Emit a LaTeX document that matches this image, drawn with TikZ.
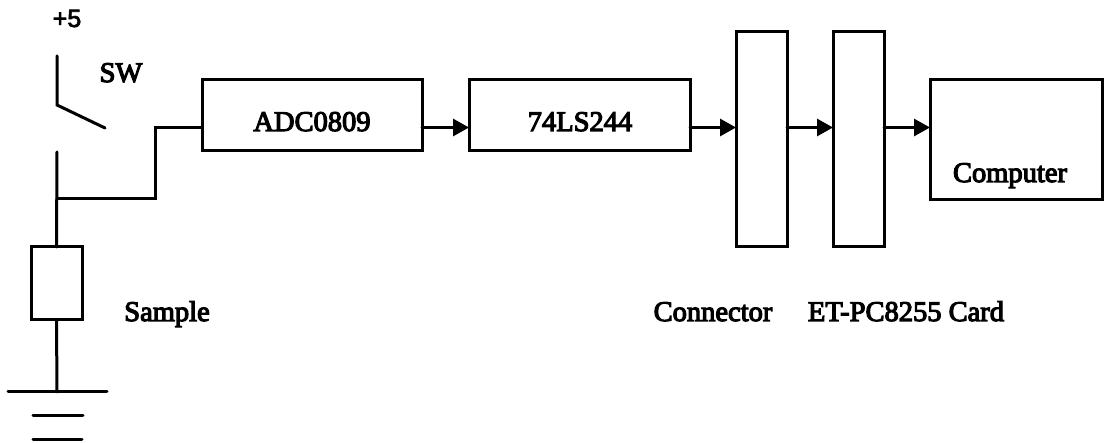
\documentclass[tikz,border=0pt]{standalone}
\usepackage{fontspec}
\setmainfont{Liberation Serif}
\newfontfamily\labfont[FakeBold=4]{Liberation Serif}
\newfontfamily\supfont[FakeBold=3]{Liberation Sans}
\usetikzlibrary{arrows.meta,calc}
\tikzset{
  x=1pt,y=-1pt,
  wire/.style={line width=3pt,black,line cap=round,line join=miter},
  arrowwire/.style={wire,-{Triangle[length=16pt,width=17pt]}},
  blockbox/.style={draw=black,line width=3pt,fill=white,inner sep=0pt,outer sep=0pt},
  lab/.style={inner sep=0pt,outer sep=0pt,black,anchor=base,font=\labfont\fontsize{28.5}{32}\selectfont}
}
\begin{document}
\begin{tikzpicture}
\useasboundingbox (0,0) rectangle (1104,443);
\node[blockbox,minimum width=220pt,minimum height=71pt] (adc) at (312,115.5) {};
\node[blockbox,minimum width=221pt,minimum height=71pt] (ls) at (579.5,115.5) {};
\node[blockbox,minimum width=51pt,minimum height=215pt] (conn) at (761.5,139.5) {};
\node[blockbox,minimum width=51pt,minimum height=215pt] (card) at (858.5,139.5) {};
\node[blockbox,minimum width=172pt,minimum height=120pt] (comp) at (1016,140) {};
\node[blockbox,minimum width=51pt,minimum height=73pt] (samp) at (56.5,283.5) {};
\node[lab] (adctext) at (312,131) {ADC0809};
\node[lab] (lstext) at (580,131) {74LS244};
\node[lab] (comptext) at (1010,182) {Computer};
\node[lab] (sw) at (121,82) {SW};
\node[lab] (samptext) at (167,321) {Sample};
\node[lab] (conntext) at (713,321) {Connector};
\node[lab] (cardtext) at (906,321) {ET-PC8255 Card};
\node[inner sep=0pt,anchor=base,font=\supfont\fontsize{25}{28}\selectfont] (plus) at (67,27) {+5};
% helper points
\coordinate (swtop) at (57,56);
\coordinate (swhinge) at (57,105);
\coordinate (swblade) at (105,128);
\coordinate (swlow) at (57,152);
\coordinate (junc) at (57,199);
\coordinate (bend) at (155,199);
\coordinate (bus) at (0,127.5);
\coordinate (gnd) at (57,392);
\draw[wire] (swtop) -- (swhinge) -- (swblade);
\draw[wire] (swlow) -- (samp.north);
\draw[wire] (junc) -- (bend) -- (bend |- bus) -- (adc.west |- bus);
\draw[wire] (samp.south) -- (gnd);
\coordinate (g1a) at (8,392); \coordinate (g1b) at (107,392);
\coordinate (g2a) at (33,416); \coordinate (g2b) at (83,416);
\coordinate (g3a) at (33,440); \coordinate (g3b) at (82,440);
\draw[wire] (g1a) -- (g1b);
\draw[wire] (g2a) -- (g2b);
\draw[wire] (g3a) -- (g3b);
% arrows
\draw[arrowwire] (adc.east |- bus) -- (ls.west |- bus);
\draw[arrowwire] (ls.east |- bus) -- (conn.west |- bus);
\draw[arrowwire] (conn.east |- bus) -- (card.west |- bus);
\draw[arrowwire] (card.east |- bus) -- (comp.west |- bus);
\end{tikzpicture}
\end{document}
